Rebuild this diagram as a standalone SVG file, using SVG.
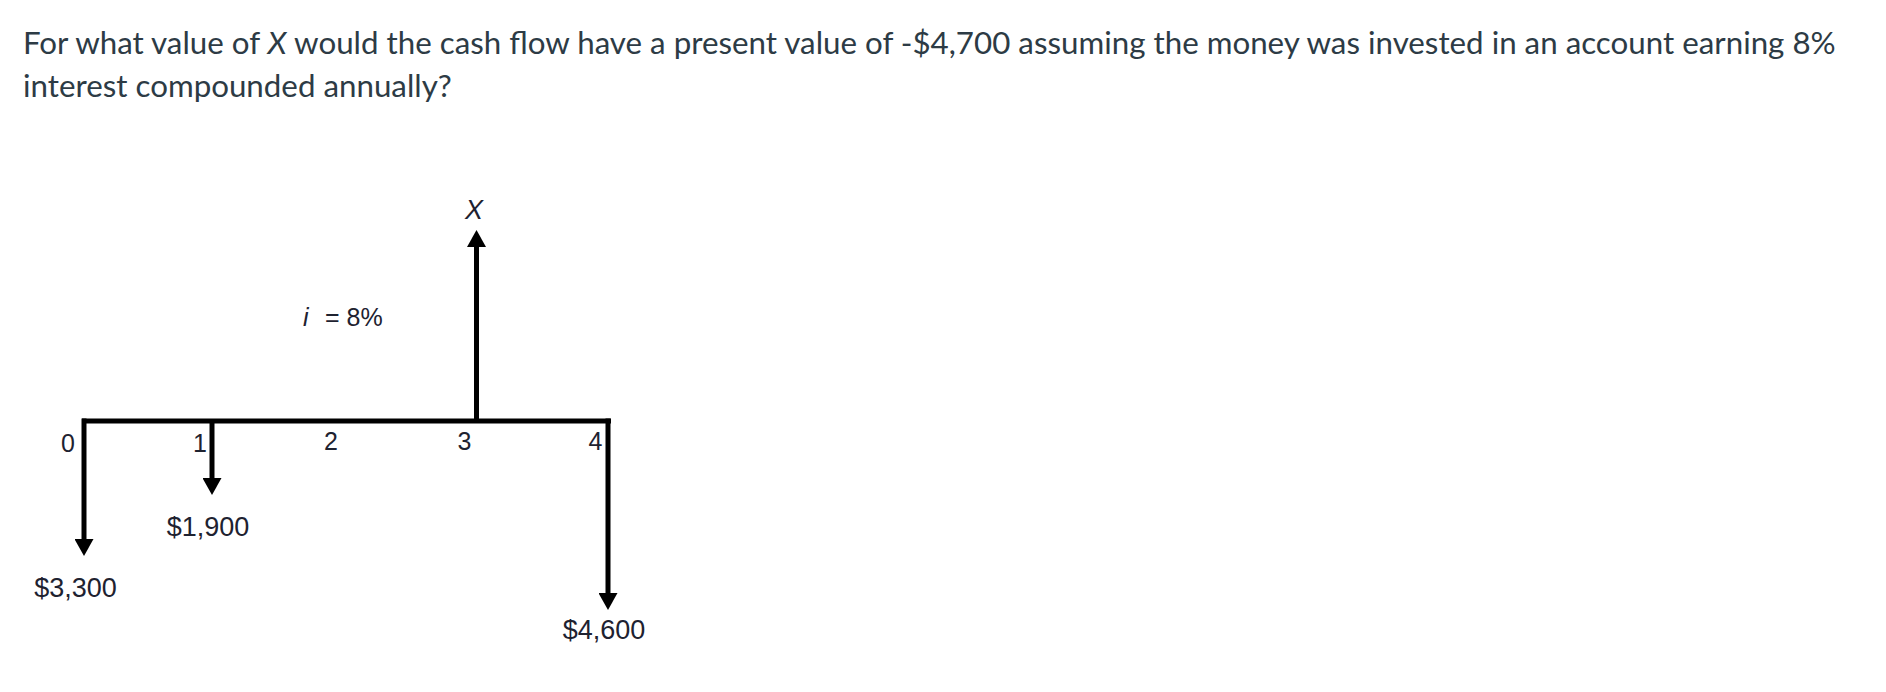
<svg xmlns="http://www.w3.org/2000/svg" width="1886" height="692" viewBox="0 0 1886 692">
<style>
.q{font-family:Lato,"Open Sans",sans-serif;font-size:31.3px;fill:#2d3b45}
.lb{font-family:"Liberation Sans",Arial,sans-serif;font-size:25px;fill:#1e2230;text-anchor:middle}
.m{font-family:"Liberation Sans",Arial,sans-serif;font-size:27px;fill:#1e2230;text-anchor:middle}
.ln{stroke:#000;stroke-width:5;fill:none}
</style>
<defs>
<marker id="ah" markerUnits="userSpaceOnUse" markerWidth="17" markerHeight="19" refX="0" refY="9.5" orient="auto">
<path d="M0,0 L17,9.5 L0,19 z" fill="#000"/>
</marker>
</defs>
<rect width="1886" height="692" fill="#fff"/>
<g id="question">
<text class="q" x="23" y="54">For what value of <tspan font-style="italic">X</tspan> would the cash flow have a present value of -$4,700 assuming the money was invested in an account earning 8%</text>
<text class="q" x="23" y="97">interest compounded annually?</text>
</g>
<g id="connectors">
<path class="ln" d="M82,421 H611"/>
<path class="ln" d="M84,418.5 V539" marker-end="url(#ah)"/>
<path class="ln" d="M212,421 V478" marker-end="url(#ah)"/>
<path class="ln" d="M476.5,421 V247" marker-end="url(#ah)"/>
<path class="ln" d="M608,418.5 V593" marker-end="url(#ah)"/>
</g>
<g id="t0"><text class="lb" x="68" y="452">0</text></g>
<g id="t1"><text class="lb" x="200" y="452">1</text></g>
<g id="t2"><text class="lb" x="331" y="450">2</text></g>
<g id="t3"><text class="lb" x="464.5" y="450">3</text></g>
<g id="t4"><text class="lb" x="595.5" y="450">4</text></g>
<g id="cf0"><text class="m" x="75.5" y="597">$3,300</text></g>
<g id="cf1"><text class="m" x="208" y="536">$1,900</text></g>
<g id="cf3"><text class="m" x="474" y="219" font-style="italic">X</text></g>
<g id="cf4"><text class="m" x="604" y="639">$4,600</text></g>
<g id="rate"><text class="lb" y="326" style="text-anchor:start"><tspan x="303" font-style="italic">i</tspan><tspan x="325">= 8%</tspan></text></g>
</svg>
